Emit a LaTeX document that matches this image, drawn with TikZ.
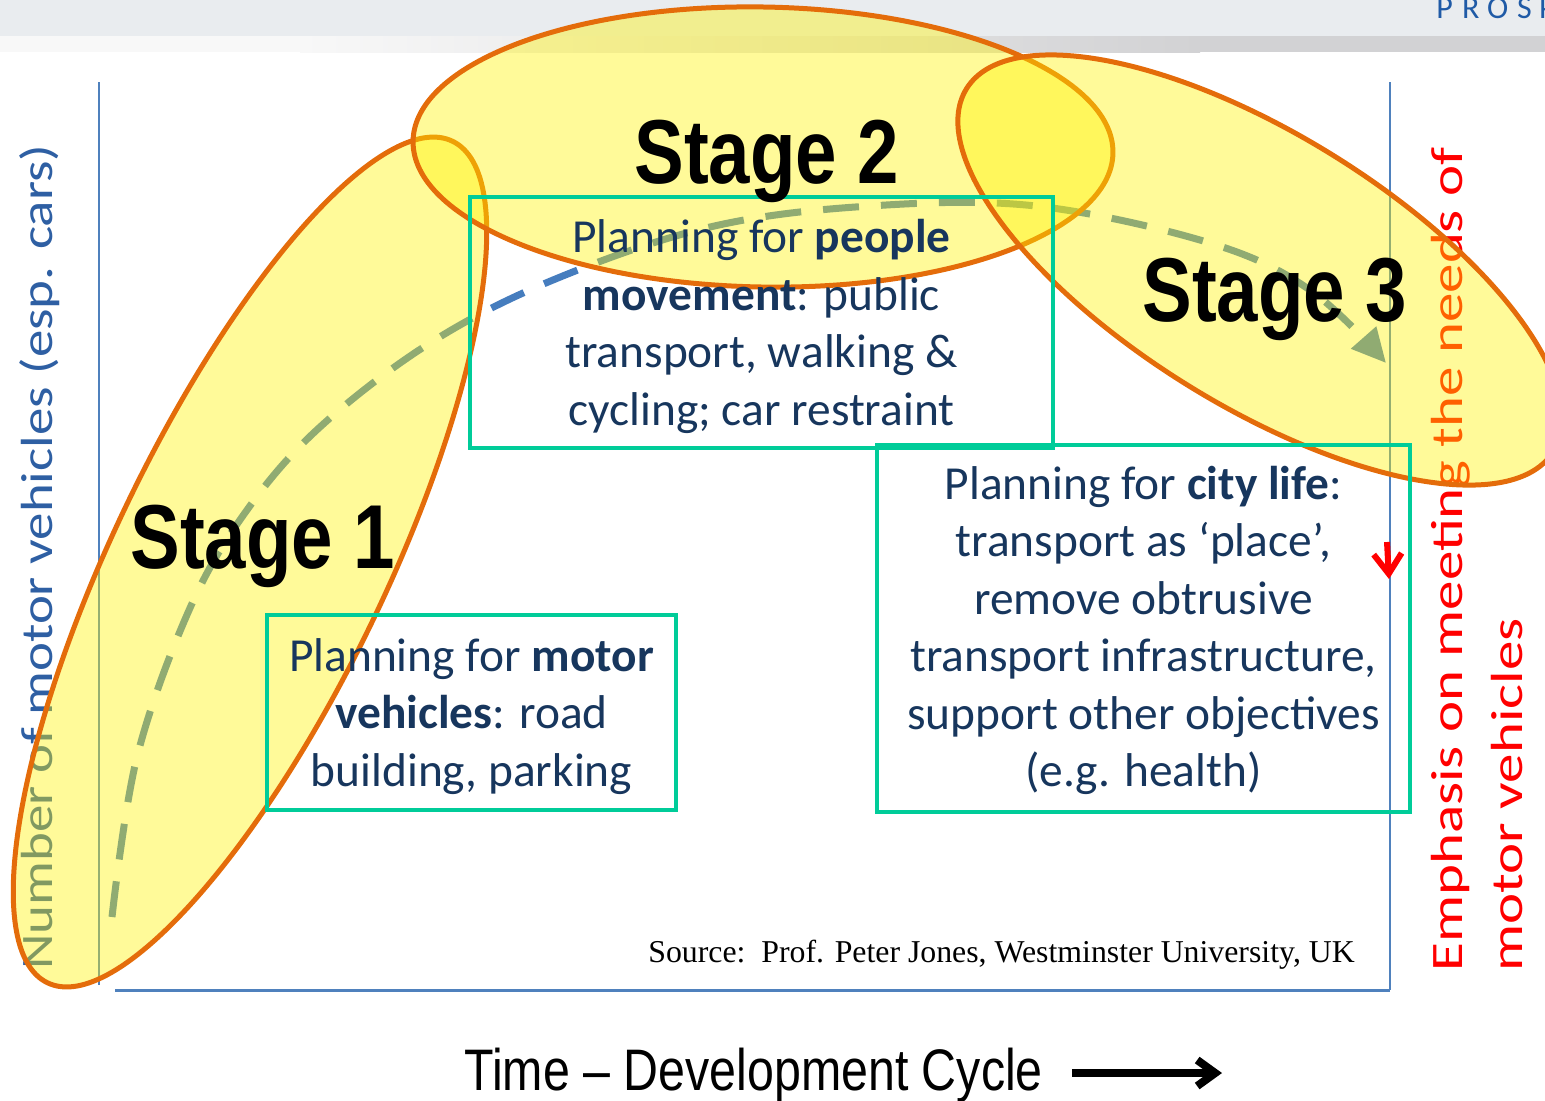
\documentclass[tikz,border=0pt]{standalone}
\usepackage{fontspec}
\setmainfont{Carlito}
\newfontfamily\arialfont{Liberation Sans}
\newfontfamily\timesfont{Liberation Serif}
\usetikzlibrary{arrows.meta}
\definecolor{axisblue}{RGB}{79,129,189}
\definecolor{dashblue}{RGB}{70,125,190}
\definecolor{ellorange}{RGB}{228,108,10}
\definecolor{boxteal}{RGB}{0,204,153}
\definecolor{navy}{RGB}{23,54,93}
\definecolor{bandgray}{RGB}{233,236,239}
\definecolor{stripegray}{RGB}{210,210,212}
\definecolor{stripelight}{RGB}{248,248,248}
\definecolor{labelblue}{RGB}{46,95,163}
\definecolor{prosblue}{RGB}{31,90,166}
\begin{document}
\begin{tikzpicture}[x=0.5pt,y=-0.5pt,
  stagefill/.style={fill=yellow, fill opacity=0.4, draw=ellorange, draw opacity=1, line width=2.5pt},
  planbox/.style={draw=boxteal, line width=2pt, inner sep=0pt},
  plantext/.style={text=navy, align=center, font=\fontsize{23.7}{28.75}\selectfont, inner sep=0pt, yshift=-2pt},
  stagelabel/.style={font=\arialfont\bfseries\fontsize{45.4}{50}\selectfont, text=black, inner sep=0pt, anchor=base west},
  axisline/.style={draw=axisblue, line width=1pt},
  sidelabel/.style={rotate=90, anchor=base west, inner sep=0pt, font=\fontsize{22.5}{27}\selectfont}
]
\useasboundingbox (0,0) rectangle (1545,1100);
\clip (0,0) rectangle (1545,1100);
% top band
\fill[bandgray] (0,0) rectangle (1545,36);
\fill[stripelight] (0,36) rectangle (300,52);
\shade[left color=stripelight, right color=stripegray] (300,36) rectangle (1200,52);
\fill[stripegray] (1200,36) rectangle (1545,52);
\node[anchor=base west, text=prosblue, font=\fontsize{16}{18}\selectfont, inner sep=0pt] (pros) at (1436,18) {P\kern4.6pt R\kern3.8pt O\kern4.4pt S\kern3.6pt P};
% axes
\coordinate (ytop) at (99,82); \coordinate (ybot) at (99,985);
\coordinate (xl) at (115,990); \coordinate (xr) at (1390,990);
\coordinate (rtop) at (1390,82);
\draw[axisline] (ytop) -- (ybot);
\draw[axisline, line width=1.5pt] (xl) -- (xr);
\draw[axisline] (rtop) -- (xr);
% side labels
\node[sidelabel, text=labelblue] (ylab) at (52,970) {\scalebox{1.22}[1]{Number of motor vehicles (esp. cars)}};
\node[sidelabel, text=red] (rlab1) at (1462,972) {\scalebox{1.31}[1]{Emphasis on meeting the needs of}};
\node[sidelabel, text=red] (rlab2) at (1522,972) {\scalebox{1.31}[1]{motor vehicles}};
% dashed development curve
\draw[dashblue, line width=3.5pt, dash pattern=on 18pt off 11pt, -{Triangle[length=17pt,width=16pt]}]
  plot[smooth, tension=0.6] coordinates {(112,917) (137,757) (190,608) (247,510) (320,427) (430,343) (553,280) (710,227) (870,206) (1036,206) (1210,243) (1310,290) (1386,363)};
% stage ellipses
\begin{scope}[shift={(250,562)}, rotate=64.3]
  \path[stagefill] (0,0) ellipse [x radius=467, y radius=136];
\end{scope}
\begin{scope}[shift={(763,147)}, rotate=-1]
  \path[stagefill] (0,0) ellipse [x radius=350, y radius=140];
\end{scope}
\begin{scope}[shift={(1260,270)}, rotate=-31.7]
  \path[stagefill] (0,0) ellipse [x radius=345, y radius=136];
\end{scope}
% boxes
\node[planbox, minimum width=204.5pt, minimum height=97.5pt] (b1) at (471.5,712.5) {};
\node[plantext] (t1) at (b1.center)
  {Planning for \textbf{motor}\\\textbf{vehicles}: road\\building, parking};
\node[planbox, minimum width=291.5pt, minimum height=125.5pt] (b2) at (761.5,322.5) {};
\node[plantext] (t2) at (b2.center)
  {Planning for \textbf{people}\\\textbf{movement}: public\\transport, walking \&\\cycling; car restraint};
\node[planbox, minimum width=266.5pt, minimum height=183.5pt] (b3) at (1143.5,628.5) {};
\node[plantext, yshift=1pt] (t3) at (b3.center)
  {Planning for \textbf{city life}:\\transport as ‘place’,\\remove obtrusive\\transport infrastructure,\\support other objectives\\(e.g. health)};
% stage labels
\node[stagelabel] (s1) at (130,568) {\scalebox{0.82}[1]{Stage 1}};
\node[stagelabel] (s2) at (634,183) {\scalebox{0.82}[1]{Stage 2}};
\node[stagelabel] (s3) at (1142,321) {\scalebox{0.82}[1]{Stage 3}};
% source
\node[anchor=base west, font=\timesfont\fontsize{15.9}{19}\selectfont, inner sep=0pt] (src) at (648,962)
  {Source:\ \ Prof. Peter Jones, Westminster University, UK};
% time axis label
\node[anchor=base west, font=\arialfont\fontsize{29.3}{35}\selectfont, inner sep=0pt] (tlab) at (464,1090)
  {\scalebox{0.825}[1]{Time – Development Cycle}};
\coordinate (ta) at (1072,1073); \coordinate (tb) at (1222,1073);
\draw[line width=4pt, -{Straight Barb[length=9pt,width=13pt]}] (ta) -- (tb);
% red arrow
\coordinate (ra) at (1387,542); \coordinate (rb) at (1389,579);
\draw[red, line width=3pt, -{Straight Barb[length=10pt,width=14pt]}] (ra) -- (rb);
\end{tikzpicture}
\end{document}
